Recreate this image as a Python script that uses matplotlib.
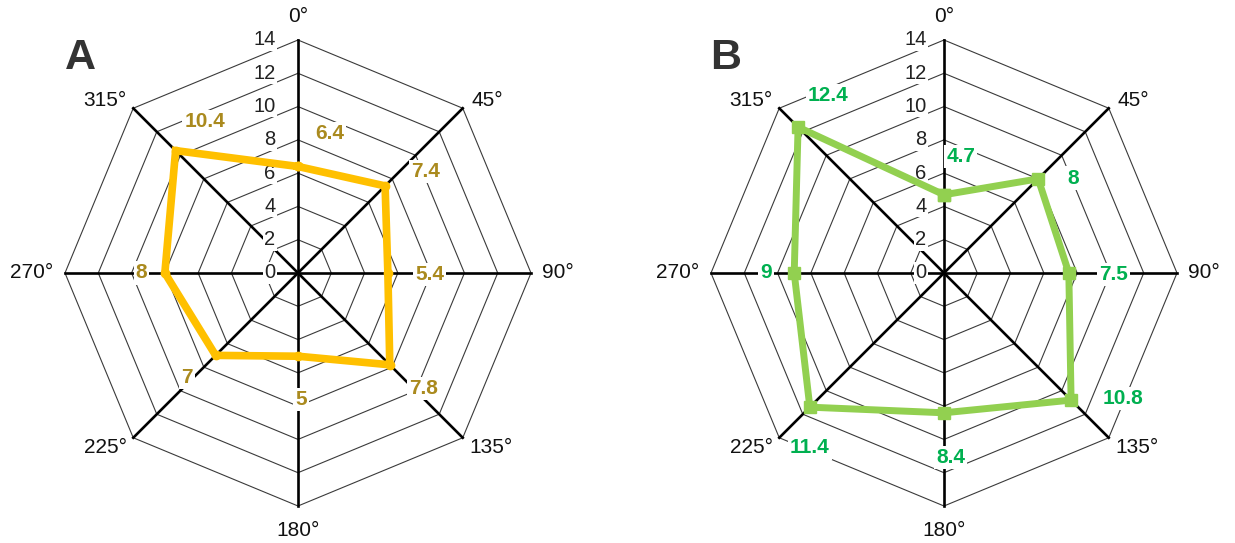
import matplotlib.pyplot as plt
import numpy as np

plt.rcParams['font.family'] = ['Liberation Sans', 'DejaVu Sans']

# Data
angles = [0, 45, 90, 135, 180, 225, 270, 315]
angle_labels = ['0°', '45°', '90°', '135°', '180°', '225°', '270°', '315°']
rings = [2, 4, 6, 8, 10, 12, 14]
ring_labels = ['0', '2', '4', '6', '8', '10', '12', '14']

values_a = [6.4, 7.4, 5.4, 7.8, 5, 7, 8, 10.4]
values_b = [4.7, 8, 7.5, 10.8, 8.4, 11.4, 9, 12.4]

# label offsets from each point (data units)
offsets_a = [(1.9, 2.0), (2.45, 0.85), (2.5, -0.1), (2.0, -1.4),
             (0.2, -2.6), (-1.7, -1.35), (-1.4, 0.0), (1.75, 1.75)]
offsets_b = [(1.0, 2.3), (2.1, 0.05), (2.7, -0.1), (3.1, 0.1),
             (0.4, -2.7), (0.0, -2.45), (-1.7, 0.0), (1.8, 1.9)]
# angle label offsets from the outer vertices
angle_offsets = [(0, 1.4), (1.5, 0.45), (1.6, 0), (1.7, -0.6),
                 (0, -1.45), (-1.65, -0.6), (-2.0, 0), (-1.7, 0.45)]

R = 14
px = 233 / R  # pixels per unit


def xy(r, deg):
    t = np.deg2rad(deg)
    return r * np.sin(t), r * np.cos(t)


def radar(ax, values, offsets, line_color, text_color, marker, ms, lw, tick_dx, letter):
    ax.set_aspect('equal')
    ax.axis('off')
    ang = np.array(angles + [angles[0]])
    # octagon rings
    for r in rings:
        gx, gy = xy(r, ang)
        ax.plot(gx, gy, color='#3a3a3a', lw=0.8, zorder=1)
    # spokes
    for a in angles:
        sx, sy = xy(R, a)
        ax.plot([0, sx], [0, sy], color='black', lw=1.9, zorder=2)
    # radial tick labels
    for i, lab in enumerate(ring_labels):
        ax.text(tick_dx, 2 * i, lab, ha='right', va='center', fontsize=14.5,
                color='#222222', zorder=3,
                bbox=dict(facecolor='white', edgecolor='none', pad=1.0))
    # angle labels
    for a, lab, (ox, oy) in zip(angles, angle_labels, angle_offsets):
        lx, ly = xy(R, a)
        ax.text(lx + ox, ly + oy, lab, ha='center', va='center', fontsize=15,
                color='#111111')
    # value labels
    for a, v, (ox, oy) in zip(angles, values, offsets):
        vx, vy = xy(v, a)
        ax.text(vx + ox, vy + oy, f'{v:g}', ha='center', va='center', fontsize=15,
                fontweight='bold', color=text_color, zorder=3,
                bbox=dict(facecolor='white', edgecolor='none', pad=1.5))
    # data polygon
    dx, dy = xy(np.array(values + [values[0]]), ang)
    ax.plot(dx, dy, color=line_color, lw=lw, marker=marker, ms=ms,
            solid_joinstyle='miter', zorder=5)
    ax.text(-13.1, 12.9, letter, ha='center', va='center', fontsize=31,
            fontweight='bold', color='#333333')


W, H = 1235, 543
fig = plt.figure(figsize=(W / 100, H / 100), dpi=100)

half_w = 290
for cx, cy, vals, offs, lc, tc, mk, ms, lw, tdx, letter in [
    (298, 273, values_a, offsets_a, '#FFC000', '#AA8A1E', 'o', 6, 5.5, -1.35, 'A'),
    (944, 273, values_b, offsets_b, '#92D050', '#00B050', 's', 9, 5.0, -1.05, 'B'),
]:
    ax = fig.add_axes([(cx - half_w) / W, 0, 2 * half_w / W, 1])
    ax.set_xlim(-half_w / px, half_w / px)
    ax.set_ylim(-(H - cy) / px, cy / px)
    radar(ax, vals, offs, lc, tc, mk, ms, lw, tdx, letter)

fig.savefig('out.png', dpi=100, facecolor='white')
